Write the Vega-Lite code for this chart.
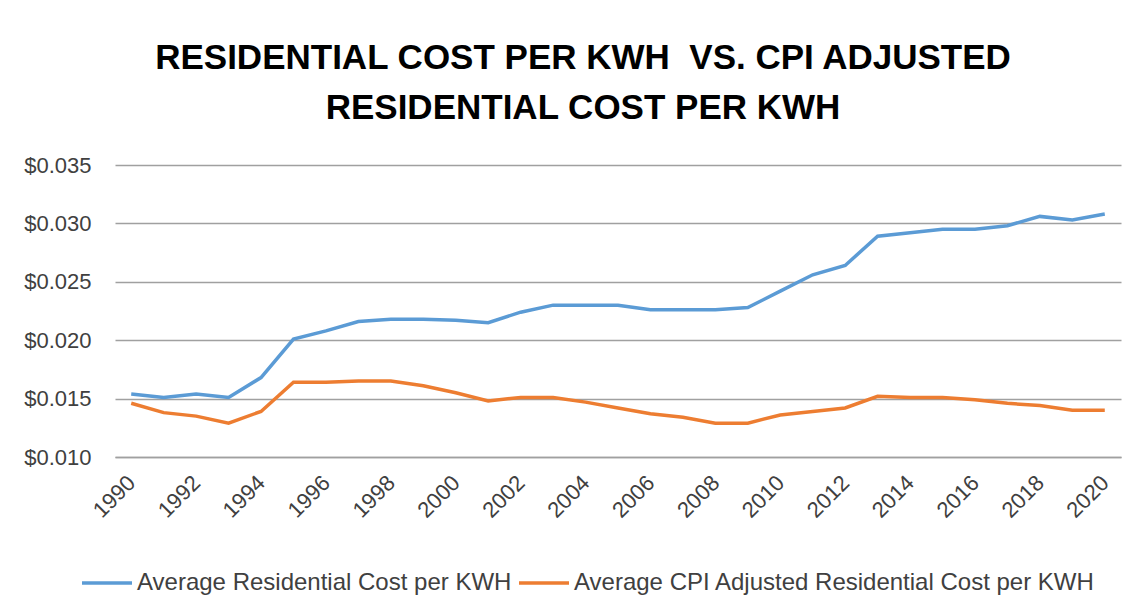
{
  "$schema": "https://vega.github.io/schema/vega-lite/v6.json",
  "width": 1006,
  "height": 292,
  "autosize": {"type": "none"},
  "padding": {"left": 115, "top": 165, "right": 24, "bottom": 158},
  "background": "white",
  "title": {
    "text": ["RESIDENTIAL COST PER KWH\u00a0 VS. CPI ADJUSTED", "RESIDENTIAL COST PER KWH"],
    "font": "Liberation Sans",
    "fontSize": 35,
    "fontWeight": "bold",
    "color": "#000000",
    "lineHeight": 50,
    "anchor": "middle",
    "dx": -35,
    "offset": 28
  },
  "data": {
    "values": [
      {"year": 1990, "series": "Average Residential Cost per KWH", "cost": 0.0154},
      {"year": 1991, "series": "Average Residential Cost per KWH", "cost": 0.0151},
      {"year": 1992, "series": "Average Residential Cost per KWH", "cost": 0.0154},
      {"year": 1993, "series": "Average Residential Cost per KWH", "cost": 0.0151},
      {"year": 1994, "series": "Average Residential Cost per KWH", "cost": 0.0168},
      {"year": 1995, "series": "Average Residential Cost per KWH", "cost": 0.0201},
      {"year": 1996, "series": "Average Residential Cost per KWH", "cost": 0.0208},
      {"year": 1997, "series": "Average Residential Cost per KWH", "cost": 0.0216},
      {"year": 1998, "series": "Average Residential Cost per KWH", "cost": 0.0218},
      {"year": 1999, "series": "Average Residential Cost per KWH", "cost": 0.0218},
      {"year": 2000, "series": "Average Residential Cost per KWH", "cost": 0.0217},
      {"year": 2001, "series": "Average Residential Cost per KWH", "cost": 0.0215},
      {"year": 2002, "series": "Average Residential Cost per KWH", "cost": 0.0224},
      {"year": 2003, "series": "Average Residential Cost per KWH", "cost": 0.0230},
      {"year": 2004, "series": "Average Residential Cost per KWH", "cost": 0.0230},
      {"year": 2005, "series": "Average Residential Cost per KWH", "cost": 0.0230},
      {"year": 2006, "series": "Average Residential Cost per KWH", "cost": 0.0226},
      {"year": 2007, "series": "Average Residential Cost per KWH", "cost": 0.0226},
      {"year": 2008, "series": "Average Residential Cost per KWH", "cost": 0.0226},
      {"year": 2009, "series": "Average Residential Cost per KWH", "cost": 0.0228},
      {"year": 2010, "series": "Average Residential Cost per KWH", "cost": 0.0242},
      {"year": 2011, "series": "Average Residential Cost per KWH", "cost": 0.0256},
      {"year": 2012, "series": "Average Residential Cost per KWH", "cost": 0.0264},
      {"year": 2013, "series": "Average Residential Cost per KWH", "cost": 0.0289},
      {"year": 2014, "series": "Average Residential Cost per KWH", "cost": 0.0292},
      {"year": 2015, "series": "Average Residential Cost per KWH", "cost": 0.0295},
      {"year": 2016, "series": "Average Residential Cost per KWH", "cost": 0.0295},
      {"year": 2017, "series": "Average Residential Cost per KWH", "cost": 0.0298},
      {"year": 2018, "series": "Average Residential Cost per KWH", "cost": 0.0306},
      {"year": 2019, "series": "Average Residential Cost per KWH", "cost": 0.0303},
      {"year": 2020, "series": "Average Residential Cost per KWH", "cost": 0.0308},
      {"year": 1990, "series": "Average CPI Adjusted Residential Cost per KWH", "cost": 0.0146},
      {"year": 1991, "series": "Average CPI Adjusted Residential Cost per KWH", "cost": 0.0138},
      {"year": 1992, "series": "Average CPI Adjusted Residential Cost per KWH", "cost": 0.0135},
      {"year": 1993, "series": "Average CPI Adjusted Residential Cost per KWH", "cost": 0.0129},
      {"year": 1994, "series": "Average CPI Adjusted Residential Cost per KWH", "cost": 0.0139},
      {"year": 1995, "series": "Average CPI Adjusted Residential Cost per KWH", "cost": 0.0164},
      {"year": 1996, "series": "Average CPI Adjusted Residential Cost per KWH", "cost": 0.0164},
      {"year": 1997, "series": "Average CPI Adjusted Residential Cost per KWH", "cost": 0.0165},
      {"year": 1998, "series": "Average CPI Adjusted Residential Cost per KWH", "cost": 0.0165},
      {"year": 1999, "series": "Average CPI Adjusted Residential Cost per KWH", "cost": 0.0161},
      {"year": 2000, "series": "Average CPI Adjusted Residential Cost per KWH", "cost": 0.0155},
      {"year": 2001, "series": "Average CPI Adjusted Residential Cost per KWH", "cost": 0.0148},
      {"year": 2002, "series": "Average CPI Adjusted Residential Cost per KWH", "cost": 0.0151},
      {"year": 2003, "series": "Average CPI Adjusted Residential Cost per KWH", "cost": 0.0151},
      {"year": 2004, "series": "Average CPI Adjusted Residential Cost per KWH", "cost": 0.0147},
      {"year": 2005, "series": "Average CPI Adjusted Residential Cost per KWH", "cost": 0.0142},
      {"year": 2006, "series": "Average CPI Adjusted Residential Cost per KWH", "cost": 0.0137},
      {"year": 2007, "series": "Average CPI Adjusted Residential Cost per KWH", "cost": 0.0134},
      {"year": 2008, "series": "Average CPI Adjusted Residential Cost per KWH", "cost": 0.0129},
      {"year": 2009, "series": "Average CPI Adjusted Residential Cost per KWH", "cost": 0.0129},
      {"year": 2010, "series": "Average CPI Adjusted Residential Cost per KWH", "cost": 0.0136},
      {"year": 2011, "series": "Average CPI Adjusted Residential Cost per KWH", "cost": 0.0139},
      {"year": 2012, "series": "Average CPI Adjusted Residential Cost per KWH", "cost": 0.0142},
      {"year": 2013, "series": "Average CPI Adjusted Residential Cost per KWH", "cost": 0.0152},
      {"year": 2014, "series": "Average CPI Adjusted Residential Cost per KWH", "cost": 0.0151},
      {"year": 2015, "series": "Average CPI Adjusted Residential Cost per KWH", "cost": 0.0151},
      {"year": 2016, "series": "Average CPI Adjusted Residential Cost per KWH", "cost": 0.0149},
      {"year": 2017, "series": "Average CPI Adjusted Residential Cost per KWH", "cost": 0.0146},
      {"year": 2018, "series": "Average CPI Adjusted Residential Cost per KWH", "cost": 0.0144},
      {"year": 2019, "series": "Average CPI Adjusted Residential Cost per KWH", "cost": 0.0140},
      {"year": 2020, "series": "Average CPI Adjusted Residential Cost per KWH", "cost": 0.0140}
    ]
  },
  "mark": {"type": "line", "strokeWidth": 3.5, "interpolate": "linear"},
  "encoding": {
    "x": {
      "field": "year",
      "type": "ordinal",
      "scale": {"type": "point", "padding": 0.5},
      "axis": {
        "title": null,
        "values": [1990, 1992, 1994, 1996, 1998, 2000, 2002, 2004, 2006, 2008, 2010, 2012, 2014, 2016, 2018, 2020],
        "labelAngle": -45,
        "labelAlign": "right",
        "labelBaseline": "middle",
        "labelPadding": 22,
        "labelFont": "Liberation Sans",
        "labelFontSize": 22,
        "labelColor": "#404040",
        "ticks": false,
        "tickSize": 0,
        "grid": false,
        "domain": true,
        "domainColor": "#a0a0a0",
        "domainWidth": 1.5,
        "labelOverlap": false
      }
    },
    "y": {
      "field": "cost",
      "type": "quantitative",
      "scale": {"domain": [0.01, 0.035], "nice": false, "zero": false},
      "axis": {
        "title": null,
        "values": [0.01, 0.015, 0.02, 0.025, 0.03, 0.035],
        "format": "$.3f",
        "labelFont": "Liberation Sans",
        "labelFontSize": 22,
        "labelColor": "#404040",
        "labelPadding": 24,
        "ticks": false,
        "tickSize": 0,
        "domain": false,
        "grid": true,
        "gridColor": "#a0a0a0",
        "gridWidth": 1.5
      }
    },
    "color": {
      "field": "series",
      "type": "nominal",
      "sort": null,
      "scale": {
        "domain": ["Average Residential Cost per KWH", "Average CPI Adjusted Residential Cost per KWH"],
        "range": ["#5B9BD5", "#ED7D31"]
      },
      "legend": {
        "title": null,
        "orient": "none",
        "direction": "horizontal",
        "legendX": -35,
        "legendY": 391,
        "symbolType": "stroke",
        "symbolSize": 2500,
        "symbolStrokeWidth": 3.5,
        "labelFont": "Liberation Sans",
        "labelFontSize": 24,
        "labelColor": "#404040",
        "labelOffset": 3,
        "columnPadding": 0,
        "padding": 0,
        "labelLimit": 800
      }
    }
  },
  "config": {"view": {"stroke": null}}
}
